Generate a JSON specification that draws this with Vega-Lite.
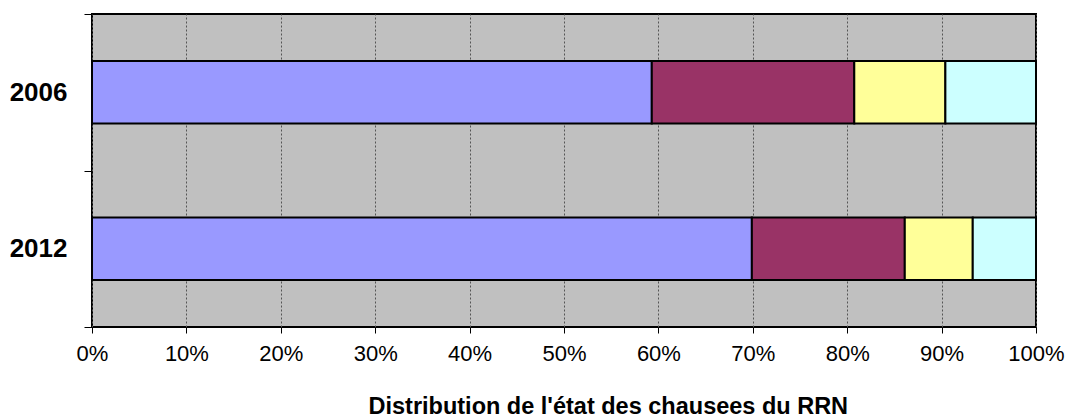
{
  "$schema": "https://vega.github.io/schema/vega-lite/v6.json",
  "width": 944,
  "height": 313,
  "autosize": {"type": "none"},
  "padding": {"left": 92, "top": 14, "right": 34, "bottom": 92},
  "background": "white",
  "config": {
    "font": "Liberation Sans",
    "view": {"stroke": "black", "strokeWidth": 2, "fill": "#C0C0C0"}
  },
  "data": {
    "values": [
      {"annee": "2006", "etat": "Bon", "rang": 1, "part": 59.3},
      {"annee": "2006", "etat": "Moyen", "rang": 2, "part": 21.45},
      {"annee": "2006", "etat": "Mauvais", "rang": 3, "part": 9.65},
      {"annee": "2006", "etat": "Très mauvais", "rang": 4, "part": 9.6},
      {"annee": "2012", "etat": "Bon", "rang": 1, "part": 69.9},
      {"annee": "2012", "etat": "Moyen", "rang": 2, "part": 16.2},
      {"annee": "2012", "etat": "Mauvais", "rang": 3, "part": 7.2},
      {"annee": "2012", "etat": "Très mauvais", "rang": 4, "part": 6.7}
    ]
  },
  "mark": {"type": "bar", "stroke": "black", "strokeWidth": 2, "height": {"band": 0.4}},
  "encoding": {
    "y": {
      "field": "annee",
      "type": "nominal",
      "sort": ["2006", "2012"],
      "scale": {"paddingInner": 0, "paddingOuter": 0},
      "axis": {
        "title": null,
        "domain": false,
        "tickBand": "extent",
        "ticks": true,
        "tickSize": 8,
        "tickColor": "black",
        "labelFontWeight": "bold",
        "labelFontSize": 26,
        "labelColor": "black",
        "labelPadding": 17,
        "grid": false
      }
    },
    "x": {
      "field": "part",
      "type": "quantitative",
      "stack": "normalize",
      "scale": {"domain": [0, 1], "nice": false},
      "axis": {
        "title": "Distribution de l'état des chausees du RRN",
        "titleFontSize": 23.5,
        "titleFontWeight": "bold",
        "titleColor": "black",
        "titlePadding": 30,
        "titleAnchor": "start",
        "titleAlign": "left",
        "titleX": 276,
        "format": ".0%",
        "values": [0, 0.1, 0.2, 0.3, 0.4, 0.5, 0.6, 0.7, 0.8, 0.9, 1],
        "domain": false,
        "tickColor": "black",
        "tickSize": 6,
        "labelFontSize": 22,
        "labelColor": "black",
        "labelPadding": 10,
        "labelFlush": false,
        "grid": true,
        "gridColor": "#555555",
        "gridDash": [2, 2],
        "gridWidth": 1
      }
    },
    "color": {
      "field": "etat",
      "type": "nominal",
      "scale": {
        "domain": ["Bon", "Moyen", "Mauvais", "Très mauvais"],
        "range": ["#9999FF", "#993366", "#FFFF99", "#CCFFFF"]
      },
      "legend": null
    },
    "order": {"field": "rang", "type": "quantitative"}
  }
}
